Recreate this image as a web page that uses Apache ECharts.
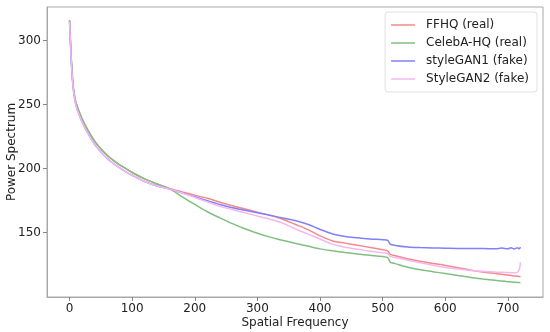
<!DOCTYPE html>
<html>
<head>
<meta charset="utf-8">
<script src="https://cdn.jsdelivr.net/npm/echarts@6/dist/echarts.min.js"></script>
<style>html,body{margin:0;padding:0;background:#fff}#c{width:550px;height:332px}</style>
</head>
<body>
<div id="c"></div>
<script>
// Spatial frequency sample points
const freq = [0,1,2,3,4,5,6,8,10,12,15,20,25,30,40,50,60,70,80,90,100,120,140,160,180,200,220,240,260,280,300,320,340,360,380,400,420,440,460,480,500,508,512,520,540,560,580,600,620,640,660,680,690,700,705,710,715,718,720];

const ffhq = [316,305,294,284,276,269,264,257,252,249,245,239,234,229.5,221.5,215.5,210.5,206.5,203,200,197,192,188,184.5,181.8,179.3,176.8,173.8,171,168.5,166,163.5,160.5,156.5,152.5,147.5,143.5,141.8,140.1,138.4,136.6,135.8,133,132,129.6,127.6,125.9,124.4,122.6,120.8,119.2,118,117.4,116.8,116.5,116.2,115.9,115.7,115.5];

const celeba = [316,305,294,284,276,269,264,257,252,249,245,239,234,229.5,221.5,215.5,210.5,206.5,203,200,197,192,188,184.2,178,172,166.3,161.5,157,153,149.5,146.5,144,141.7,139.5,137.3,135.8,134.5,133.3,132.3,131.3,130.5,127,125.8,123,121,119.5,118,116.5,115,113.8,112.7,112.2,111.7,111.5,111.3,111.1,111,110.9];

const stylegan1 = [315,303,292,282,274,267,262,255,250,246.5,242.5,236.5,231.5,227,219,213,208,204,200.5,197.5,194.8,190,186.5,184,181,178,175,172,169.5,167.5,165.5,163.5,161.5,159.5,156.5,152.5,149,147,146,145,144.5,144,141,140,138.8,138.3,138,137.8,137.6,137.6,137.5,137.4,137.9,137.4,138.1,137.3,138.2,137.4,138.7];

const stylegan2 = [315,303,292,282,274,267,262,255,250,246.5,242.5,236.5,231.5,227,219,213,208,204,200.5,197.5,194.8,190,186.5,184,181,177.5,174,170.5,168,165.5,163,160.5,157.5,153,149,145,141,138.5,137,135.5,134.3,133.6,131.5,130.5,128.5,126.5,124.5,122.8,121.5,120.5,119.8,119.2,119,118.8,118.7,118.7,119,121,127];

const xTicks = [0,100,200,300,400,500,600,700];
const yTicks = [150,200,250,300];

const names = ['FFHQ (real)','CelebA-HQ (real)','styleGAN1 (fake)','StyleGAN2 (fake)'];
const colors = ['#f28a88','#80bf80','#8080f8','#f4b8f0'];
const values = [ffhq, celeba, stylegan1, stylegan2];

const chart = echarts.init(document.getElementById('c'), null, {renderer:'canvas'});
const font = 'DejaVu Sans';
chart.setOption({
  animation:false,
  backgroundColor:'#fff',
  grid:{left:47,right:7,top:7,bottom:35,show:true,borderColor:'#a8a8a8',borderWidth:1,containLabel:false,outerBoundsMode:'none'},
  legend:{
    orient:'vertical', right:13, top:12,
    data:names,
    icon:'rect',
    itemWidth:24, itemHeight:1.5, itemGap:4,
    padding:[6,8,6,6],
    backgroundColor:'#fff', borderColor:'#e0e0e0', borderWidth:1, borderRadius:3,
    textStyle:{fontFamily:font,fontSize:12,color:'#222',lineHeight:14,padding:[0,0,0,6]}
  },
  xAxis:{
    type:'value', min:-36, max:756,
    name:'Spatial Frequency', nameLocation:'middle', nameGap:20, nameMoveOverlap:false,
    nameTextStyle:{fontFamily:font,fontSize:12,color:'#222'},
    axisLine:{show:true,onZero:false,lineStyle:{color:'#a8a8a8'}},
    axisTick:{show:true,length:4,customValues:xTicks,lineStyle:{color:'#888'}},
    axisLabel:{customValues:xTicks,fontFamily:font,fontSize:12,color:'#222',margin:6},
    splitLine:{show:false}
  },
  yAxis:{
    type:'value', min:99.7, max:326.3,
    name:'Power Spectrum', nameLocation:'middle', nameGap:29, nameRotate:90, nameMoveOverlap:false,
    nameTextStyle:{fontFamily:font,fontSize:12,color:'#222'},
    axisLine:{show:true,onZero:false,lineStyle:{color:'#a8a8a8'}},
    axisTick:{show:true,length:4,customValues:yTicks,lineStyle:{color:'#888'}},
    axisLabel:{customValues:yTicks,fontFamily:font,fontSize:12,color:'#222',margin:6},
    splitLine:{show:false}
  },
  series: names.map((n,i)=>({
    name:n, type:'line', symbol:'none', smooth:0.3,
    data: freq.map((f,j)=>[f, values[i][j]]),
    lineStyle:{color:colors[i],width:1.5},
    itemStyle:{color:colors[i]}
  }))
});
</script>
</body>
</html>
